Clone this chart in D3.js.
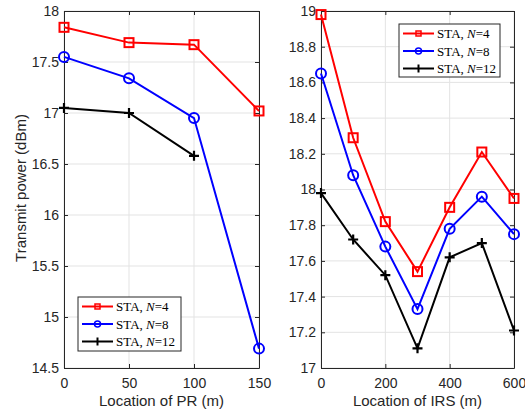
<!DOCTYPE html>
<html>
<head>
<meta charset="utf-8">
<script src="https://cdn.jsdelivr.net/npm/d3@7"></script>
<style>
  body { margin: 0; background: #fff; }
  svg { display: block; }
</style>
</head>
<body>
<svg id="chart" width="525" height="413"></svg>
<script>
// Left panel: transmit power versus location of PR
const prLocations = [0, 50, 100, 150];
const prN4 = [17.84, 17.69, 17.67, 17.02];
const prN8 = [17.55, 17.34, 16.95, 14.69];
const prN12 = [17.05, 17.00, 16.58];
const prYTicks = [14.5, 15, 15.5, 16, 16.5, 17, 17.5, 18];
const prXTicks = [0, 50, 100, 150];

// Right panel: transmit power versus location of IRS
const irsLocations = [0, 100, 200, 300, 400, 500, 600];
const irsN4 = [18.98, 18.29, 17.82, 17.54, 17.90, 18.21, 17.95];
const irsN8 = [18.65, 18.08, 17.68, 17.33, 17.78, 17.96, 17.75];
const irsN12 = [17.98, 17.72, 17.52, 17.11, 17.62, 17.70, 17.21];
const irsYTicks = [17, 17.2, 17.4, 17.6, 17.8, 18, 18.2, 18.4, 18.6, 18.8, 19];
const irsXTicks = [0, 200, 400, 600];

const seriesStyle = [
  { name: "4", color: "#ff0000", marker: "square" },
  { name: "8", color: "#0000ff", marker: "circle" },
  { name: "12", color: "#000000", marker: "plus" }
];

const svg = d3.select("#chart");
const axisColor = "#262626";
const sans = "'Liberation Sans', Arial, Helvetica, sans-serif";
const serif = "'Liberation Serif', 'Times New Roman', serif";

function drawMarker(g, type, x, y, color) {
  if (type === "square") {
    g.append("rect").attr("x", x - 4.5).attr("y", y - 4.5).attr("width", 9).attr("height", 9)
      .attr("fill", "none").attr("stroke", color).attr("stroke-width", 2);
  } else if (type === "circle") {
    g.append("circle").attr("cx", x).attr("cy", y).attr("r", 5)
      .attr("fill", "none").attr("stroke", color).attr("stroke-width", 2);
  } else {
    g.append("path").attr("d", `M${x - 5},${y}H${x + 5}M${x},${y - 5}V${y + 5}`)
      .attr("stroke", color).attr("stroke-width", 2.2);
  }
}

function panel(opts) {
  const { x0, x1, y0, y1, xDomain, yDomain, xTicks, yTicks, xs, series, legend, xLabel } = opts;
  const x = d3.scaleLinear().domain(xDomain).range([x0, x1]);
  const y = d3.scaleLinear().domain(yDomain).range([y1, y0]);
  const g = svg.append("g");

  // grid
  g.append("g").selectAll("line").data(xTicks).join("line")
    .attr("x1", d => x(d)).attr("x2", d => x(d)).attr("y1", y0).attr("y2", y1)
    .attr("stroke", "#e3e3e3").attr("stroke-width", 1);
  g.append("g").selectAll("line").data(yTicks).join("line")
    .attr("x1", x0).attr("x2", x1).attr("y1", d => y(d)).attr("y2", d => y(d))
    .attr("stroke", "#e3e3e3").attr("stroke-width", 1);

  // box axes with inward ticks
  const fmt = d3.format("~g");
  const xa = g.append("g").attr("transform", `translate(0,${y1})`)
    .call(d3.axisBottom(x).tickValues(xTicks).tickSizeInner(-4).tickSizeOuter(0).tickPadding(10).tickFormat(fmt));
  const ya = g.append("g").attr("transform", `translate(${x0},0)`)
    .call(d3.axisLeft(y).tickValues(yTicks).tickSizeInner(-4).tickSizeOuter(0).tickPadding(5).tickFormat(fmt));
  const xTop = g.append("g").attr("transform", `translate(0,${y0})`)
    .call(d3.axisTop(x).tickValues(xTicks).tickSizeInner(-4).tickSizeOuter(0).tickFormat(""));
  const yRight = g.append("g").attr("transform", `translate(${x1},0)`)
    .call(d3.axisRight(y).tickValues(yTicks).tickSizeInner(-4).tickSizeOuter(0).tickFormat(""));
  [xa, ya, xTop, yRight].forEach(a => {
    a.select(".domain").attr("stroke", axisColor).attr("stroke-width", 1);
    a.selectAll(".tick line").attr("stroke", axisColor);
    a.selectAll("text").style("font-size", "14px").style("font-family", sans).attr("fill", axisColor);
  });

  // series
  series.forEach((vals, i) => {
    const st = seriesStyle[i];
    const pts = vals.map((v, j) => [x(xs[j]), y(v)]);
    g.append("path").attr("d", d3.line()(pts)).attr("fill", "none")
      .attr("stroke", st.color).attr("stroke-width", 2);
    pts.forEach(p => drawMarker(g, st.marker, p[0], p[1], st.color));
  });

  // legend
  const lg = g.append("g");
  lg.append("rect").attr("x", legend.x).attr("y", legend.y).attr("width", legend.w).attr("height", legend.h)
    .attr("fill", "#fff").attr("stroke", axisColor).attr("stroke-width", 1);
  seriesStyle.forEach((st, i) => {
    const cy = legend.y + 9.5 + i * 17.5;
    const lx0 = legend.x + 4, lx1 = legend.x + 35;
    lg.append("line").attr("x1", lx0).attr("x2", lx1).attr("y1", cy).attr("y2", cy)
      .attr("stroke", st.color).attr("stroke-width", 2);
    const mx = (lx0 + lx1) / 2;
    if (st.marker === "square") {
      lg.append("rect").attr("x", mx - 2.5).attr("y", cy - 2.5).attr("width", 5).attr("height", 5)
        .attr("fill", "none").attr("stroke", st.color).attr("stroke-width", 1.5);
    } else if (st.marker === "circle") {
      lg.append("circle").attr("cx", mx).attr("cy", cy).attr("r", 3)
        .attr("fill", "none").attr("stroke", st.color).attr("stroke-width", 1.5);
    } else {
      lg.append("path").attr("d", `M${mx},${cy - 4}V${cy + 4}`).attr("stroke", st.color).attr("stroke-width", 2);
    }
    const t = lg.append("text").attr("x", legend.x + 38).attr("y", cy + 4.5)
      .style("font-family", serif).style("font-size", "13px").attr("fill", "#000");
    t.append("tspan").text("STA, ");
    t.append("tspan").style("font-style", "italic").text("N");
    t.append("tspan").text("=" + st.name);
  });

  // x label
  g.append("text").attr("x", (x0 + x1) / 2).attr("y", 406).attr("text-anchor", "middle")
    .style("font-family", sans).style("font-size", "15px").attr("fill", axisColor).text(xLabel);
}

panel({
  x0: 64, x1: 259, y0: 11, y1: 368,
  xDomain: [0, 150], yDomain: [14.5, 18],
  xTicks: prXTicks, yTicks: prYTicks,
  xs: prLocations, series: [prN4, prN8, prN12],
  legend: { x: 78, y: 297, w: 103, h: 54 },
  xLabel: "Location of PR (m)"
});

panel({
  x0: 321, x1: 514, y0: 11, y1: 368,
  xDomain: [0, 600], yDomain: [17, 19],
  xTicks: irsXTicks, yTicks: irsYTicks,
  xs: irsLocations, series: [irsN4, irsN8, irsN12],
  legend: { x: 399, y: 24, w: 101, h: 53 },
  xLabel: "Location of IRS (m)"
});

// shared y label
svg.append("text").attr("transform", "translate(26,188) rotate(-90)").attr("text-anchor", "middle")
  .style("font-family", sans).style("font-size", "15px").attr("fill", axisColor).text("Transmit power (dBm)");
</script>
</body>
</html>
